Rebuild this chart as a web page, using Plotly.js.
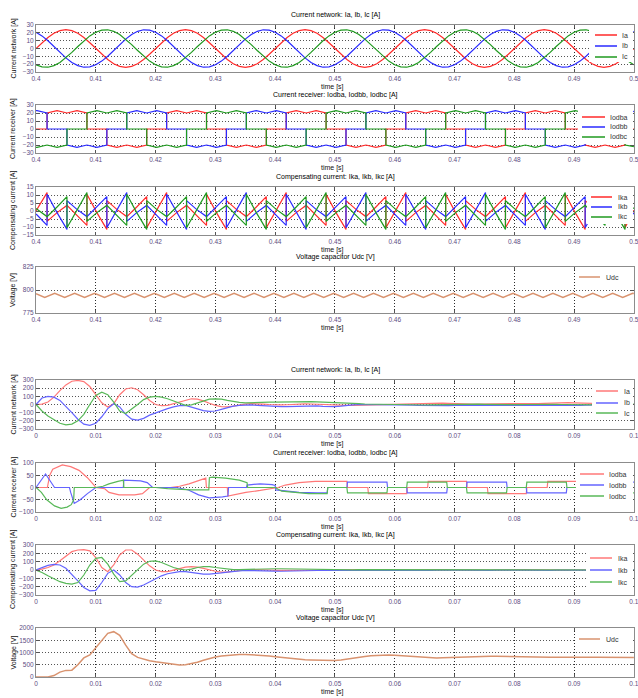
<!DOCTYPE html>
<html><head><meta charset="utf-8">
<script src="https://cdn.plot.ly/plotly-3.0.1.min.js"></script>
<style>html,body{margin:0;padding:0;background:#fff}#chart{width:638px;height:698px}</style>
</head><body><div id="chart"></div>
<script>
// ---------- TOP GROUP (steady state, 0.4 .. 0.5 s) ----------
// network currents sampled every 1 ms
const IaTop = [0,7.4,14.1,19.4,22.8,24,22.8,19.4,14.1,7.4,0,-7.4,-14.1,-19.4,-22.8,-24,-22.8,-19.4,-14.1,-7.4,
  0,7.4,14.1,19.4,22.8,24,22.8,19.4,14.1,7.4,0,-7.4,-14.1,-19.4,-22.8,-24,-22.8,-19.4,-14.1,-7.4,
  0,7.4,14.1,19.4,22.8,24,22.8,19.4,14.1,7.4,0,-7.4,-14.1,-19.4,-22.8,-24,-22.8,-19.4,-14.1,-7.4,
  0,7.4,14.1,19.4,22.8,24,22.8,19.4,14.1,7.4,0,-7.4,-14.1,-19.4,-22.8,-24,-22.8,-19.4,-14.1,-7.4,
  0,7.4,14.1,19.4,22.8,24,22.8,19.4,14.1,7.4,0,-7.4,-14.1,-19.4,-22.8,-24,-22.8,-19.4,-14.1,-7.4,0];
const IbTop = [20.8,16.1,9.8,2.5,-5,-12,-17.8,-21.9,-23.9,-23.5,-20.8,-16.1,-9.8,-2.5,5,12,17.8,21.9,23.9,23.5,
  20.8,16.1,9.8,2.5,-5,-12,-17.8,-21.9,-23.9,-23.5,-20.8,-16.1,-9.8,-2.5,5,12,17.8,21.9,23.9,23.5,
  20.8,16.1,9.8,2.5,-5,-12,-17.8,-21.9,-23.9,-23.5,-20.8,-16.1,-9.8,-2.5,5,12,17.8,21.9,23.9,23.5,
  20.8,16.1,9.8,2.5,-5,-12,-17.8,-21.9,-23.9,-23.5,-20.8,-16.1,-9.8,-2.5,5,12,17.8,21.9,23.9,23.5,
  20.8,16.1,9.8,2.5,-5,-12,-17.8,-21.9,-23.9,-23.5,-20.8,-16.1,-9.8,-2.5,5,12,17.8,21.9,23.9,23.5,20.8];
const IcTop = [-20.8,-23.5,-23.9,-21.9,-17.8,-12,-5,2.5,9.8,16.1,20.8,23.5,23.9,21.9,17.8,12,5,-2.5,-9.8,-16.1,
  -20.8,-23.5,-23.9,-21.9,-17.8,-12,-5,2.5,9.8,16.1,20.8,23.5,23.9,21.9,17.8,12,5,-2.5,-9.8,-16.1,
  -20.8,-23.5,-23.9,-21.9,-17.8,-12,-5,2.5,9.8,16.1,20.8,23.5,23.9,21.9,17.8,12,5,-2.5,-9.8,-16.1,
  -20.8,-23.5,-23.9,-21.9,-17.8,-12,-5,2.5,9.8,16.1,20.8,23.5,23.9,21.9,17.8,12,5,-2.5,-9.8,-16.1,
  -20.8,-23.5,-23.9,-21.9,-17.8,-12,-5,2.5,9.8,16.1,20.8,23.5,23.9,21.9,17.8,12,5,-2.5,-9.8,-16.1,-20.8];

// receiver currents (vertices: time, value)
const IodaTopT = [0.4,0.40185,0.40185,0.40352,0.40518,0.40685,0.40852,0.40852,0.41185,0.41185,0.41352,0.41518,0.41685,0.41852,0.41852,
  0.42185,0.42185,0.42352,0.42518,0.42685,0.42852,0.42852,0.43185,0.43185,0.43352,0.43518,0.43685,0.43852,0.43852,
  0.44185,0.44185,0.44352,0.44518,0.44685,0.44852,0.44852,0.45185,0.45185,0.45352,0.45518,0.45685,0.45852,0.45852,
  0.46185,0.46185,0.46352,0.46518,0.46685,0.46852,0.46852,0.47185,0.47185,0.47352,0.47518,0.47685,0.47852,0.47852,
  0.48185,0.48185,0.48352,0.48518,0.48685,0.48852,0.48852,0.49185,0.49185,0.49352,0.49518,0.49685,0.49852,0.49852,0.5];
const IodaTopV = [0,0,20,23,20,23,20,0,0,-20,-23,-20,-23,-20,0,
  0,20,23,20,23,20,0,0,-20,-23,-20,-23,-20,0,
  0,20,23,20,23,20,0,0,-20,-23,-20,-23,-20,0,
  0,20,23,20,23,20,0,0,-20,-23,-20,-23,-20,0,
  0,20,23,20,23,20,0,0,-20,-23,-20,-23,-20,0,0];
const IodbTopT = [0.4,0.40018,0.40185,0.40185,0.40518,0.40518,0.40685,0.40852,0.41018,0.41185,0.41185,0.41518,0.41518,0.41685,0.41852,0.42018,0.42185,0.42185,
  0.42518,0.42518,0.42685,0.42852,0.43018,0.43185,0.43185,0.43518,0.43518,0.43685,0.43852,0.44018,0.44185,0.44185,
  0.44518,0.44518,0.44685,0.44852,0.45018,0.45185,0.45185,0.45518,0.45518,0.45685,0.45852,0.46018,0.46185,0.46185,
  0.46518,0.46518,0.46685,0.46852,0.47018,0.47185,0.47185,0.47518,0.47518,0.47685,0.47852,0.48018,0.48185,0.48185,
  0.48518,0.48518,0.48685,0.48852,0.49018,0.49185,0.49185,0.49518,0.49518,0.49685,0.49852,0.5];
const IodbTopV = [22.9,23,20,0,0,-20,-23,-20,-23,-20,0,0,20,23,20,23,20,0,
  0,-20,-23,-20,-23,-20,0,0,20,23,20,23,20,0,
  0,-20,-23,-20,-23,-20,0,0,20,23,20,23,20,0,
  0,-20,-23,-20,-23,-20,0,0,20,23,20,23,20,0,
  0,-20,-23,-20,-23,-20,0,0,20,23,20,22];
const IodcTopT = [0.4,0.40018,0.40185,0.40352,0.40518,0.40518,0.40852,0.40852,0.41018,0.41185,0.41352,0.41518,0.41518,0.41852,0.41852,0.42018,0.42185,0.42352,0.42518,0.42518,
  0.42852,0.42852,0.43018,0.43185,0.43352,0.43518,0.43518,0.43852,0.43852,0.44018,0.44185,0.44352,0.44518,0.44518,
  0.44852,0.44852,0.45018,0.45185,0.45352,0.45518,0.45518,0.45852,0.45852,0.46018,0.46185,0.46352,0.46518,0.46518,
  0.46852,0.46852,0.47018,0.47185,0.47352,0.47518,0.47518,0.47852,0.47852,0.48018,0.48185,0.48352,0.48518,0.48518,
  0.48852,0.48852,0.49018,0.49185,0.49352,0.49518,0.49518,0.49852,0.49852,0.5];
const IodcTopV = [-22.9,-23,-20,-23,-20,0,0,20,23,20,23,20,0,0,-20,-23,-20,-23,-20,0,
  0,20,23,20,23,20,0,0,-20,-23,-20,-23,-20,0,
  0,20,23,20,23,20,0,0,-20,-23,-20,-23,-20,0,
  0,20,23,20,23,20,0,0,-20,-23,-20,-23,-20,0,
  0,20,23,20,23,20,0,0,-20,-22];

// compensating currents (vertices)
const IkaTopT = [0.4,0.40185,0.40185,0.40352,0.40518,0.40685,0.40852,0.40852,0.41018,0.41185,0.41185,0.41352,0.41518,0.41685,0.41852,0.41852,
  0.42185,0.42185,0.42352,0.42518,0.42685,0.42852,0.42852,0.43018,0.43185,0.43185,0.43352,0.43518,0.43685,0.43852,0.43852,
  0.44185,0.44185,0.44352,0.44518,0.44685,0.44852,0.44852,0.45018,0.45185,0.45185,0.45352,0.45518,0.45685,0.45852,0.45852,
  0.46185,0.46185,0.46352,0.46518,0.46685,0.46852,0.46852,0.47018,0.47185,0.47185,0.47352,0.47518,0.47685,0.47852,0.47852,
  0.48185,0.48185,0.48352,0.48518,0.48685,0.48852,0.48852,0.49018,0.49185,0.49185,0.49352,0.49518,0.49685,0.49852,0.49852,0.5];
const IkaTopV = [0,11.5,-6.5,-1,3.5,-2.5,-9,10.5,-1,-11.5,6.5,1,-3.5,2.5,9,-10.5,
  11.5,-6.5,-1,3.5,-2.5,-9,10.5,-1,-11.5,6.5,1,-3.5,2.5,9,-10.5,
  11.5,-6.5,-1,3.5,-2.5,-9,10.5,-1,-11.5,6.5,1,-3.5,2.5,9,-10.5,
  11.5,-6.5,-1,3.5,-2.5,-9,10.5,-1,-11.5,6.5,1,-3.5,2.5,9,-10.5,
  11.5,-6.5,-1,3.5,-2.5,-9,10.5,-1,-11.5,6.5,1,-3.5,2.5,9,-10.5,0.5];
const IkbTopT = [0.4,0.40018,0.40185,0.40185,0.40352,0.40518,0.40518,0.40685,0.40852,0.41018,0.41185,0.41185,0.41518,0.41518,0.41685,0.41852,
  0.42018,0.42185,0.42185,0.42352,0.42518,0.42518,0.42685,0.42852,0.43018,0.43185,0.43185,0.43518,0.43518,0.43685,0.43852,
  0.44018,0.44185,0.44185,0.44352,0.44518,0.44518,0.44685,0.44852,0.45018,0.45185,0.45185,0.45518,0.45518,0.45685,0.45852,
  0.46018,0.46185,0.46185,0.46352,0.46518,0.46518,0.46685,0.46852,0.47018,0.47185,0.47185,0.47518,0.47518,0.47685,0.47852,
  0.48018,0.48185,0.48185,0.48352,0.48518,0.48518,0.48685,0.48852,0.49018,0.49185,0.49185,0.49518,0.49518,0.49685,0.49852,0.5];
const IkbTopV = [-1.9,-2.5,-9,10.5,-1,-11.5,6.5,1,-3.5,2.5,9,-10.5,11.5,-6.5,-1,3.5,
  -2.5,-9,10.5,-1,-11.5,6.5,1,-3.5,2.5,9,-10.5,11.5,-6.5,-1,3.5,
  -2.5,-9,10.5,-1,-11.5,6.5,1,-3.5,2.5,9,-10.5,11.5,-6.5,-1,3.5,
  -2.5,-9,10.5,-1,-11.5,6.5,1,-3.5,2.5,9,-10.5,11.5,-6.5,-1,3.5,
  -2.5,-9,10.5,-1,-11.5,6.5,1,-3.5,2.5,9,-10.5,11.5,-6.5,-1,3.5,-1.9];
const IkcTopT = [0.4,0.40018,0.40185,0.40352,0.40518,0.40518,0.40852,0.40852,0.41018,0.41185,0.41352,0.41518,0.41518,0.41685,0.41852,0.41852,
  0.42018,0.42185,0.42352,0.42518,0.42518,0.42852,0.42852,0.43018,0.43185,0.43352,0.43518,0.43518,0.43685,0.43852,0.43852,
  0.44018,0.44185,0.44352,0.44518,0.44518,0.44852,0.44852,0.45018,0.45185,0.45352,0.45518,0.45518,0.45685,0.45852,0.45852,
  0.46018,0.46185,0.46352,0.46518,0.46518,0.46852,0.46852,0.47018,0.47185,0.47352,0.47518,0.47518,0.47685,0.47852,0.47852,
  0.48018,0.48185,0.48352,0.48518,0.48518,0.48852,0.48852,0.49018,0.49185,0.49352,0.49518,0.49518,0.49685,0.49852,0.49852,0.5];
const IkcTopV = [1.5,1,-3.5,2.5,9,-10.5,11.5,-6.5,-1,3.5,-2.5,-9,10.5,-1,-11.5,6.5,
  1,-3.5,2.5,9,-10.5,11.5,-6.5,-1,3.5,-2.5,-9,10.5,-1,-11.5,6.5,
  1,-3.5,2.5,9,-10.5,11.5,-6.5,-1,3.5,-2.5,-9,10.5,-1,-11.5,6.5,
  1,-3.5,2.5,9,-10.5,11.5,-6.5,-1,3.5,-2.5,-9,10.5,-1,-11.5,6.5,
  1,-3.5,2.5,9,-10.5,11.5,-6.5,-1,3.5,-2.5,-9,10.5,-1,-11.5,6.5,1.5];

// capacitor voltage ripple (vertices)
const UdcTopT = [0.4,0.40146,0.40313,0.4048,0.40646,0.40813,0.4098,0.41146,0.41313,0.4148,0.41646,0.41813,0.4198,
  0.42146,0.42313,0.4248,0.42646,0.42813,0.4298,0.43146,0.43313,0.4348,0.43646,0.43813,0.4398,
  0.44146,0.44313,0.4448,0.44646,0.44813,0.4498,0.45146,0.45313,0.4548,0.45646,0.45813,0.4598,
  0.46146,0.46313,0.4648,0.46646,0.46813,0.4698,0.47146,0.47313,0.4748,0.47646,0.47813,0.4798,
  0.48146,0.48313,0.4848,0.48646,0.48813,0.4898,0.49146,0.49313,0.4948,0.49646,0.49813,0.4998,0.5];
const UdcTopV = [796,792,796.5,792,796.5,792,796.5,792,796.5,792,796.5,792,796.5,
  792,796.5,792,796.5,792,796.5,792,796.5,792,796.5,792,796.5,
  792,796.5,792,796.5,792,796.5,792,796.5,792,796.5,792,796.5,
  792,796.5,792,796.5,792,796.5,792,796.5,792,796.5,792,796.5,
  792,796.5,792,796.5,792,796.5,792,796.5,792,796.5,792,796.5,796.3];

// ---------- BOTTOM GROUP (start-up transient, 0 .. 0.1 s, 1 ms samples) ----------
const IaBot = [0,5,30,90,170,240,285,295,280,220,120,20,-30,10,120,190,205,180,120,50,
  0,-15,-10,10,35,55,70,65,45,15,-10,-25,-30,-20,-5,5,10,10,5,0,
  -5,-5,-3,2,6,8,6,2,-2,-5,-6,-8,-10,-10,-8,-6,-4,-2,0,2,
  4,6,10,14,16,18,20,20,18,14,10,8,6,4,4,6,8,10,12,14,
  14,12,10,8,10,14,18,20,22,22,20,18,16,14,12,10,8,6,4,2,0];
const IbBot = [0,80,100,90,50,-20,-100,-180,-240,-255,-230,-150,-50,10,-30,-120,-180,-190,-170,-130,
  -100,-75,-50,-30,-15,-10,-30,-55,-75,-85,-80,-60,-40,-20,-10,-5,-5,-10,-15,-20,
  -22,-25,-25,-22,-18,-15,-15,-18,-22,-25,-25,-20,-10,-5,0,0,0,-5,-5,-5,
  -5,-5,-5,-8,-10,-12,-14,-15,-15,-14,-12,-10,-8,-6,-6,-8,-10,-12,-14,-15,
  -14,-12,-10,-8,-6,-6,-8,-10,-12,-12,-12,-10,-8,-6,-4,-2,0,0,0,0,0];
const IcBot = [0,-80,-140,-190,-230,-250,-240,-200,-120,0,110,150,120,30,-80,-110,-60,0,60,90,
  100,90,70,40,10,-10,-5,20,45,65,70,65,50,35,25,20,20,22,25,28,
  30,32,34,35,35,35,34,32,30,28,25,22,18,14,10,6,4,2,0,-2,
  -4,-6,-8,-8,-8,-6,-4,-2,0,2,4,6,6,6,4,2,0,-2,-4,-4,
  -4,-2,0,2,4,4,4,2,0,-2,-4,-6,-6,-6,-4,-2,0,2,4,4,4];

const IodaBotT = [0,0.0019,0.0023,0.0028,0.0044,0.0058,0.0072,0.0086,0.0097,0.0100,0.0115,0.0122,0.0139,0.0165,0.0178,0.0186,0.0190,0.0225,0.0240,0.0256,0.0272,0.0284,0.0285,0.0320,0.0321,0.0330,0.0351,0.0375,0.0395,0.0405,0.0417,0.0440,0.0467,0.0500,0.0520,0.0521,0.0555,0.0556,0.0620,0.0621,0.0655,0.0656,0.0720,0.0721,0.0755,0.0756,0.0820,0.0821,0.0855,0.0856,0.0920,0.0921,0.1];
const IodaBotV = [0,0,50,75,92,85,70,40,10,0,-5,-20,-30,-30,-25,-10,0,0,5,15,30,38,0,0,-35,-30,-20,-12,-5,0,10,20,25,25,25,0,0,-25,-25,0,0,25,25,0,0,-25,-25,0,0,25,25,0,0];
const IodbBotT = [0,0.0016,0.0031,0.0056,0.0058,0.0064,0.0074,0.0086,0.0100,0.0146,0.0147,0.0160,0.0175,0.0186,0.0195,0.0235,0.0255,0.0272,0.0290,0.0312,0.0321,0.0322,0.0352,0.0353,0.0375,0.0395,0.0400,0.0401,0.0440,0.0470,0.0487,0.0488,0.0520,0.0521,0.0587,0.0588,0.0620,0.0621,0.0687,0.0688,0.0720,0.0721,0.0787,0.0788,0.0820,0.0821,0.0887,0.0888,0.0920,0.0921,0.1];
const IodbBotV = [0,55,0,0,-20,-65,-50,-25,0,0,30,30,27,20,0,0,-10,-30,-42,-38,-35,0,0,10,15,12,8,-10,-20,-22,-22,0,0,22,22,0,0,-22,-22,0,0,22,22,0,0,-22,-22,0,0,22,22];
const IodcBotT = [0,0.0009,0.0018,0.0031,0.0042,0.0052,0.0059,0.0063,0.0064,0.0100,0.0112,0.0122,0.0137,0.0146,0.0147,0.0200,0.0220,0.0260,0.0289,0.0290,0.0295,0.0317,0.0340,0.0353,0.0354,0.0400,0.0411,0.0456,0.0487,0.0488,0.0520,0.0521,0.0587,0.0588,0.0620,0.0621,0.0687,0.0688,0.0720,0.0721,0.0787,0.0788,0.0820,0.0821,0.0887,0.0888,0.0920,0.0921,0.1];
const IodcBotV = [0,-20,-50,-75,-85,-80,-70,-50,0,0,5,15,25,30,0,0,-5,-10,-10,40,42,38,30,20,0,0,-15,-25,-25,0,0,-22,-22,0,0,22,22,0,0,-22,-22,0,0,22,22,0,0,-22,-22];

const IkaBot = [0,10,30,60,110,170,220,240,245,230,150,30,-20,60,180,240,240,190,120,50,
  0,-20,-20,0,20,35,40,35,20,0,-15,-25,-25,-15,-5,0,5,5,5,0,
  -5,-5,-5,-8,-10,-10,-8,-5,-2,0,2,4,6,6,4,2,0,-2,-4,-4,
  -4,-2,0,2,4,6,6,6,4,2,0,-2,-4,-4,-4,-2,0,2,4,6,
  6,6,4,2,0,-2,-4,-4,-4,-2,0,2,4,6,6,6,4,2,0,-2,-4];
const IkbBot = [0,30,55,68,60,20,-50,-130,-210,-250,-245,-150,-40,0,-60,-150,-200,-205,-180,-140,
  -100,-70,-45,-30,-20,-20,-30,-45,-50,-50,-45,-35,-25,-15,-10,-5,-5,-8,-10,-12,
  -14,-15,-15,-14,-12,-10,-8,-6,-4,-2,0,-2,-4,-6,-8,-8,-6,-4,-2,0,
  2,0,-2,-4,-6,-6,-4,-2,0,2,2,0,-2,-4,-6,-6,-4,-2,0,2,
  2,0,-2,-4,-6,-6,-4,-2,0,2,2,0,-2,-4,-6,-6,-4,-2,0,2,2];
const IkcBot = [0,-30,-70,-110,-140,-160,-170,-150,-60,60,140,150,70,-50,-140,-130,-60,10,70,105,
  110,90,60,30,10,0,10,30,40,40,30,20,10,5,5,8,10,12,14,15,
  15,15,14,12,10,8,6,4,2,0,-2,-2,0,2,4,4,2,0,-2,-2,
  0,2,4,4,2,0,-2,-2,0,2,4,4,2,0,-2,-2,0,2,4,4,
  2,0,-2,-2,0,2,4,4,2,0,-2,-2,0,2,4,4,2,0,-2,-2,0];

const UdcBot = [0,0,0,60,200,270,280,500,780,900,1200,1500,1780,1850,1700,1300,950,800,720,660,
  620,580,540,510,490,500,540,600,680,760,820,860,890,910,920,920,910,900,880,860,
  830,800,770,740,720,700,690,680,670,665,670,690,720,760,800,840,870,890,900,900,
  890,870,850,830,810,790,780,780,790,800,810,820,830,840,845,850,850,845,840,830,
  820,810,800,795,795,800,805,810,815,820,820,820,815,810,805,800,800,800,800,800,800];

// ---------- chart set-up ----------
const RED='#ff2a2a', BLUE='#2a2aff', GREEN='#1f9a1f';
const RED2='#ff7878', BLUE2='#6464ff', GREEN2='#58b858', UDC='#d9936f';
const H=698, W=638, XL=36/W, XR=634/W;
const boxes=[[25,72],[105,153],[187,235],[267,313],[380,429],[463,512],[545,595],[628,677]];
const yranges=[[-30,30],[-30,30],[-15,15],[775,825],[-300,300],[-100,100],[-300,300],[0,2000]];
const ydticks=[10,10,5,25,100,50,100,500];
const titles=['Current network: Ia, Ib, Ic [A]','Current receiver: Iodba, Iodbb, Iodbc [A]','Compensating current: Ika, Ikb, Ikc [A]','Voltage capacitor Udc [V]'];
const ytitles=['Current network [A]','Current receiver [A]','Compensating current [A]','Voltage [V]'];
const TICKC='#5e4d82', FONT='Liberation Sans, Arial, sans-serif';

function ms(arr){return arr.map((_,i)=>+(i*0.001).toFixed(3));}
function grid(t0,n){return Array.from({length:n},(_,i)=>+(t0+i*0.001).toFixed(3));}
const tTop=grid(0.4,IaTop.length);

function tr(x,y,color,k,name,w){return {x:x,y:y,type:'scatter',mode:'lines',name:name,showlegend:false,
  xaxis:'x'+(k===1?'':k),yaxis:'y'+(k===1?'':k),line:{color:color,width:w||1.2},hoverinfo:'skip'};}

const data=[
  tr(tTop,IaTop,RED,1,'Ia'),tr(tTop,IbTop,BLUE,1,'Ib'),tr(tTop,IcTop,GREEN,1,'Ic'),
  tr(IodaTopT,IodaTopV,RED,2,'Iodba'),tr(IodbTopT,IodbTopV,BLUE,2,'Iodbb'),tr(IodcTopT,IodcTopV,GREEN,2,'Iodbc'),
  tr(IkaTopT,IkaTopV,RED,3,'Ika'),tr(IkbTopT,IkbTopV,BLUE,3,'Ikb'),tr(IkcTopT,IkcTopV,GREEN,3,'Ikc'),
  tr(UdcTopT,UdcTopV,UDC,4,'Udc',1.5),
  tr(ms(IaBot),IaBot,RED2,5,'Ia'),tr(ms(IbBot),IbBot,BLUE2,5,'Ib'),tr(ms(IcBot),IcBot,GREEN2,5,'Ic'),
  tr(IodaBotT,IodaBotV,RED2,6,'Iodba'),tr(IodbBotT,IodbBotV,BLUE2,6,'Iodbb'),tr(IodcBotT,IodcBotV,GREEN2,6,'Iodbc'),
  tr(ms(IkaBot),IkaBot,RED2,7,'Ika'),tr(ms(IkbBot),IkbBot,BLUE2,7,'Ikb'),tr(ms(IkcBot),IkcBot,GREEN2,7,'Ikc'),
  tr(ms(UdcBot),UdcBot,UDC,8,'Udc',1.5)
];

const layout={width:W,height:H,margin:{l:0,r:0,t:0,b:0},paper_bgcolor:'#fff',plot_bgcolor:'#fff',
  showlegend:false,font:{family:FONT,size:7,color:'#111'},annotations:[],shapes:[]};

for(let i=0;i<8;i++){
  const k=i+1, b=boxes[i];
  const top=i<4;
  layout['xaxis'+(k===1?'':k)]={domain:[XL,XR],anchor:'y'+(k===1?'':k),range:top?[0.4,0.50002]:[0,0.10002],dtick:0.01,tick0:0,
    showgrid:true,gridcolor:'#2a2a2a',griddash:'1px,2px',gridwidth:1,zeroline:false,showline:true,linecolor:'#8c8c8c',linewidth:1,mirror:'ticks',
    ticks:'inside',ticklen:3,tickcolor:'#555',tickfont:{size:6.5,color:TICKC,family:FONT},ticklabeloverflow:'allow',fixedrange:true};
  layout['yaxis'+(k===1?'':k)]={domain:[1-b[1]/H,1-b[0]/H],anchor:'x'+(k===1?'':k),range:yranges[i],dtick:ydticks[i],
    showgrid:true,gridcolor:'#555',griddash:'1px,2px',gridwidth:1,zeroline:false,showline:true,linecolor:'#8c8c8c',linewidth:1,mirror:'ticks',
    ticks:'inside',ticklen:3,tickcolor:'#555',tickfont:{size:6.5,color:TICKC,family:FONT},ticklabeloverflow:'allow',fixedrange:true};
  layout.annotations.push({xref:'paper',yref:'paper',x:335/W,y:1-(b[0]-10)/H,xanchor:'center',yanchor:'middle',showarrow:false,
    text:titles[i%4],font:{size:7,color:'#000',family:FONT}});
  layout.annotations.push({xref:'paper',yref:'paper',x:13/W,y:1-((b[0]+b[1])/2)/H,xanchor:'center',yanchor:'middle',showarrow:false,
    textangle:-90,text:ytitles[i%4],font:{size:7,color:'#111',family:FONT}});
  layout.annotations.push({xref:'paper',yref:'paper',x:332/W,y:1-(b[1]+15)/H,xanchor:'center',yanchor:'middle',showarrow:false,
    text:'time [s]',font:{size:7,color:'#111',family:FONT}});
}

const legends=[
  {box:[589,633,27,62],l0:595,l1:617,tx:620,ys:[35,46,57],names:['Ia','Ib','Ic'],colors:[RED,BLUE,GREEN]},
  {box:[578,633,109,144],l0:582,l1:605,tx:608,ys:[117,127,137],names:['Iodba','Iodbb','Iodbc'],colors:[RED,BLUE,GREEN]},
  {box:[587,633,190,224],l0:591,l1:612,tx:616,ys:[197,207,217],names:['Ika','Ikb','Ikc'],colors:[RED,BLUE,GREEN]},
  {box:[575,633,270,284],l0:579,l1:600,tx:604,ys:[277],names:['Udc'],colors:[UDC]},
  {box:[592,633,384,418],l0:596,l1:618,tx:622,ys:[391,403,413],names:['Ia','Ib','Ic'],colors:[RED2,BLUE2,GREEN2]},
  {box:[576,633,467,502],l0:580,l1:604,tx:607,ys:[474,485,496],names:['Iodba','Iodbb','Iodbc'],colors:[RED2,BLUE2,GREEN2]},
  {box:[586,633,550,588],l0:590,l1:612,tx:616,ys:[558,570,582],names:['Ika','Ikb','Ikc'],colors:[RED2,BLUE2,GREEN2]},
  {box:[575,633,632,646],l0:579,l1:600,tx:604,ys:[639],names:['Udc'],colors:[UDC]}
];
const px=v=>v/W, py=v=>1-v/H;
legends.forEach(L=>{
  layout.shapes.push({type:'rect',xref:'paper',yref:'paper',x0:px(L.box[0]),x1:px(L.box[1]),y0:py(L.box[2]),y1:py(L.box[3]),
    fillcolor:'#fff',line:{width:0},layer:'above'});
  L.ys.forEach((yy,j)=>{
    layout.shapes.push({type:'line',xref:'paper',yref:'paper',x0:px(L.l0),x1:px(L.l1),y0:py(yy),y1:py(yy),line:{color:L.colors[j],width:1.5},layer:'above'});
    layout.annotations.push({xref:'paper',yref:'paper',x:px(L.tx),y:py(yy),xanchor:'left',yanchor:'middle',showarrow:false,
      text:L.names[j],font:{size:7,color:'#333',family:FONT}});
  });
});

Plotly.newPlot('chart',data,layout,{staticPlot:true,displayModeBar:false});
</script></body></html>
